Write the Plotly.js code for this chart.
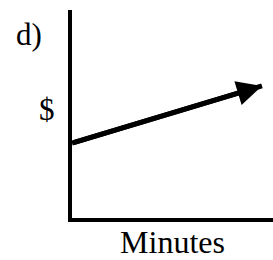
<!DOCTYPE html>
<html><head><meta charset="utf-8">
<script src="https://cdn.plot.ly/plotly-3.0.1.min.js"></script>
<style>html,body{margin:0;padding:0;background:#fff}</style>
</head><body>
<div id="chart" style="width:273px;height:260px"></div>
<script>
var lineX = [0, 9.45];
var lineY = [3.6, 6.35];
var panelLabel = "d)";
var yLabel = "$";
var xLabel = "Minutes";

var font = {family: "Liberation Serif, Times New Roman, serif", size: 31, color: "#000000"};
var titleFont = {family: "Liberation Serif, Times New Roman, serif", size: 32, color: "#000000"};

Plotly.newPlot("chart", [{
  x: lineX, y: lineY, mode: "lines", type: "scatter",
  line: {color: "#000", width: 5},
  cliponaxis: false, hoverinfo: "skip"
}], {
  width: 273, height: 260,
  margin: {l: 72, r: 0, t: 10, b: 42},
  paper_bgcolor: "#fff", plot_bgcolor: "#fff",
  showlegend: false,
  font: font,
  xaxis: {range: [0, 10], showgrid: false, zeroline: false, showticklabels: false, ticks: "",
          showline: true, linewidth: 4, linecolor: "#000",
          title: {text: xLabel, font: titleFont, standoff: 19}},
  yaxis: {range: [0, 10], showgrid: false, zeroline: false, showticklabels: false, ticks: "",
          showline: true, linewidth: 4, linecolor: "#000"},
  annotations: [
    {text: "", x: lineX[1], y: lineY[1], ax: lineX[0], ay: lineY[0], xref: "x", yref: "y", axref: "x", ayref: "y",
     showarrow: true, arrowhead: 2, arrowsize: 1, arrowwidth: 5, arrowcolor: "#000"},
    {text: panelLabel, xref: "paper", yref: "paper", x: -0.215, y: 0.88, xanchor: "center", yanchor: "middle", showarrow: false, font: font},
    {text: yLabel, xref: "paper", yref: "paper", x: -0.125, y: 0.52, xanchor: "center", yanchor: "middle", showarrow: false, font: font}
  ]
}, {staticPlot: true});
</script>
</body></html>
